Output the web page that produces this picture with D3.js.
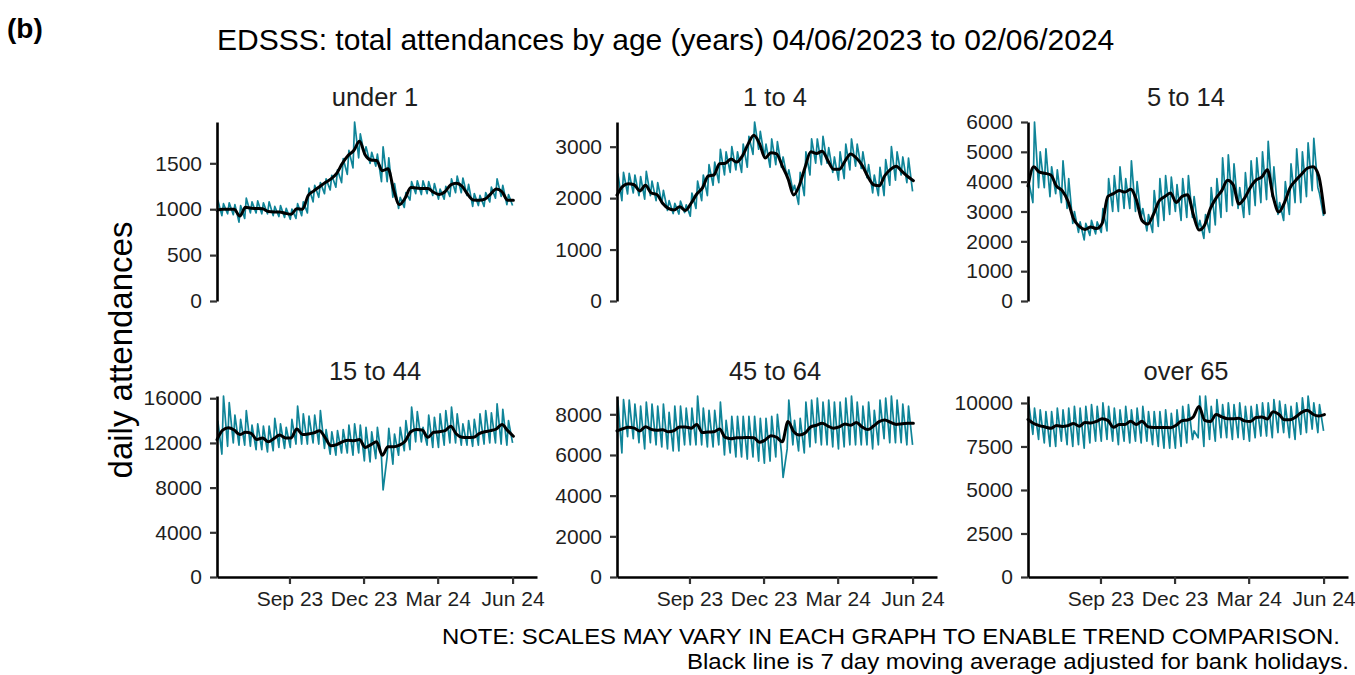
<!DOCTYPE html>
<html>
<head>
<meta charset="utf-8">
<script src="https://cdn.jsdelivr.net/npm/d3@7"></script>
<style>
  html, body { margin: 0; padding: 0; background: #fff; }
  svg { display: block; font-family: "Liberation Sans", Arial, sans-serif; }
</style>
</head>
<body>
<script>
// ---------------- DATA ----------------
const panelNames = ["under 1", "1 to 4", "5 to 14", "15 to 44", "45 to 64", "over 65"];
const startDate = "2023-06-04";
const endDate = "2024-06-02";

// 7-day moving average (black), one value per week from 04/06/2023 to 02/06/2024
const trendUnder1 = [990,1000,1000,1000,925,1020,1010,1008,1005,975,970,970,955,945,1005,1000,1150,1200,1245,1290,1330,1390,1500,1585,1640,1740,1590,1535,1530,1420,1440,1210,1050,1120,1236,1230,1225,1225,1185,1160,1190,1265,1282,1250,1160,1100,1098,1110,1165,1220,1190,1098,1098];
const trend1to4 = [2060,2230,2280,2260,2140,2250,2100,2070,1900,1800,1770,1830,1760,1900,2080,2200,2430,2450,2670,2680,2760,2700,2820,3050,3220,3060,2780,2880,2860,2620,2380,2060,2250,2600,2900,2870,2910,2730,2560,2560,2720,2860,2780,2640,2420,2260,2240,2440,2560,2620,2520,2420,2340];
const trend5to14 = [3850,4500,4320,4280,4220,3850,3700,3350,2750,2500,2400,2480,2430,2600,3500,3600,3700,3650,3750,3400,2700,2580,2900,3350,3500,3620,3300,3500,3560,2900,2380,2550,3100,3450,3700,4050,3900,3250,3450,3800,4050,4150,4400,3500,2980,3300,3800,4050,4250,4450,4500,4200,2950];
const trend15to44 = [12300,13150,13350,13150,12750,12950,12850,12300,12450,12100,12400,12700,12450,12450,13250,12750,12800,12900,13100,12450,11750,11850,12100,12250,12200,12300,11600,11850,12100,10900,11650,11650,11800,12150,13000,13200,13150,12500,12950,13000,13100,13500,12800,12500,12480,12500,12840,13000,13100,13250,13650,13100,12600];
const trend45to64 = [7180,7290,7360,7320,7180,7390,7260,7220,7240,7140,7200,7380,7380,7320,7500,7100,7130,7140,7280,6860,6800,6850,6850,6860,6850,6620,6740,6950,6870,6650,7650,7150,6980,7080,7380,7460,7560,7420,7320,7380,7520,7460,7600,7380,7250,7420,7640,7720,7600,7500,7540,7560,7560];
const trendOver65 = [9050,8820,8700,8620,8540,8700,8650,8700,8820,8660,8880,8850,8940,9100,9000,8600,8760,8760,8950,8760,8950,8640,8590,8590,8590,8580,8720,8980,9020,9200,9800,9000,8930,9330,9200,9100,9100,9120,8970,8930,9160,9200,9080,9500,9350,9030,9040,9200,9460,9580,9350,9250,9330];

// daily attendances (teal): weekly high (Mondays) and weekly low (Saturdays)
const highUnder1 = [1100,1060,1070,1050,1040,1120,1080,1090,1070,1080,1030,1040,1010,1000,1060,1080,1230,1260,1290,1330,1370,1430,1550,1640,1950,1820,1680,1620,1600,1680,1560,1280,1130,1180,1300,1310,1310,1300,1280,1220,1250,1330,1360,1340,1270,1170,1150,1180,1240,1330,1260,1160];
const lowUnder1 = [930,950,940,860,900,960,960,950,950,930,920,910,890,900,930,960,1080,1130,1170,1210,1240,1290,1380,1450,1560,1600,1500,1470,1300,1300,1130,1010,1020,1100,1170,1160,1170,1150,1110,1110,1140,1180,1180,1150,1030,1040,1030,1080,1120,1140,1050,1040];
const high1to4 = [2480,2500,2480,2450,2420,2520,2330,2300,2150,1950,1900,1940,1870,2100,2330,2450,2650,2700,2950,2900,3000,2900,3050,3200,3480,3300,3050,3150,3100,2800,2550,2250,2500,2900,3150,3150,3200,2980,2800,2900,3050,3150,3050,2900,2650,2450,2600,2750,3000,2900,2800,2780];
const low1to4 = [1950,2080,2100,2050,1980,2050,1950,1900,1760,1700,1690,1720,1650,1800,1950,2050,2250,2300,2450,2500,2550,2500,2600,2850,2950,2800,2600,2650,2600,2400,2150,1880,2050,2450,2680,2650,2680,2500,2350,2380,2550,2620,2580,2400,2100,2050,2050,2250,2350,2450,2300,2130];
const high5to14 = [4000,6000,5000,5100,4500,4400,4700,4100,3000,2650,2600,2700,2650,3100,4100,4200,4500,4100,4700,4000,3100,2900,3700,4100,4200,4150,3900,4100,4200,3500,2700,2900,3800,4100,4800,4900,4600,3800,4300,4700,4800,5000,5350,4500,3300,4000,4600,5100,5000,5300,5450,3600];
const low5to14 = [3300,3800,3800,3500,3600,3300,3100,2600,2300,2050,2200,2250,2300,2350,3000,3000,3100,3100,3000,2800,2350,2300,2500,2700,2900,3000,2700,2800,2800,2400,2100,2300,2550,2800,3000,3200,3100,2800,2900,3200,3300,3400,3500,2900,2700,2900,3300,3300,3500,3700,3800,2850];
const high15to44 = [14000,16200,15600,14500,14100,14900,13600,13700,13500,13500,14200,13700,13400,14100,15300,14600,14400,14500,14900,13200,13000,13100,13200,13600,13700,13600,13400,13000,13400,7800,13300,12800,13400,14000,15200,14800,13400,14500,14300,14600,14900,15200,14600,13700,14000,14100,14600,14900,14700,15500,15000,14000];
const low15to44 = [11000,11700,12000,11800,11800,11700,11400,11400,11200,11300,11600,11500,11600,11900,11900,11900,12000,11900,11500,11000,10900,11100,11100,10900,11100,10400,10300,10600,10700,10800,10100,10900,11300,11400,12100,12100,11800,11600,11600,11800,12000,12000,11800,11800,11700,11800,11900,12000,12000,11900,11800,12000];
const high45to64 = [8700,8720,8700,8500,8400,8600,8500,8400,8500,8100,8400,8400,8300,8300,8900,8300,8200,8200,8600,7700,7900,7900,7900,7900,7900,7800,7800,7900,8000,4900,8700,7700,7800,8600,8700,8800,8600,8700,8600,8600,8800,8900,8600,8400,8600,8200,8700,8800,8900,8700,8500,8400];
const low45to64 = [6100,6900,6800,6600,6300,6600,6500,6400,6300,6200,6200,6500,6500,6500,6500,6400,6400,6500,6000,6100,5900,5900,5800,5900,5700,5600,5700,5900,6100,6300,6500,6200,6100,6400,6600,6500,6500,6400,6300,6400,6500,6500,6500,6500,6300,6500,6800,6600,6600,6600,6500,6500];
const highOver65 = [9900,9700,9600,9500,9500,9700,9600,9700,9800,9700,9800,9900,9800,10000,9800,9700,9600,9800,9600,9700,9800,9500,9500,9500,9600,9400,9600,9800,9900,8400,10400,10400,9800,10200,9900,10000,9900,10000,9800,9800,9900,10000,10000,10200,10100,9900,9800,10000,10300,10400,10000,9900];
const lowOver65 = [8200,7900,7700,7500,7500,7800,7600,7500,7600,7400,7700,7800,7800,7900,7800,7600,7800,7700,7800,7700,7800,7600,7500,7400,7400,7400,7500,7700,7900,8000,7500,7900,7800,8000,8000,7900,8000,7900,7800,8000,8100,8100,8000,8300,8300,8000,7900,8200,8300,8500,8300,8400];

// y tick values per panel
const ticksUnder1 = [0, 500, 1000, 1500];
const ticks1to4 = [0, 1000, 2000, 3000];
const ticks5to14 = [0, 1000, 2000, 3000, 4000, 5000, 6000];
const ticks15to44 = [0, 4000, 8000, 12000, 16000];
const ticks45to64 = [0, 2000, 4000, 6000, 8000];
const ticksOver65 = [0, 2500, 5000, 7500, 10000];

// x ticks
const xTickDates = ["2023-09-01", "2023-12-01", "2024-03-01", "2024-06-01"];
const xTickLabels = ["Sep 23", "Dec 23", "Mar 24", "Jun 24"];

const titleText = "EDSSS: total attendances by age (years) 04/06/2023 to 02/06/2024";
const tagText = "(b)";
const yLabelText = "daily attendances";
const noteLines = ["NOTE: SCALES MAY VARY IN EACH GRAPH TO ENABLE TREND COMPARISON.",
                   "Black line is 7 day moving average adjusted for bank holidays."];

// ---------------- DRAW ----------------
const panelTrend = [trendUnder1, trend1to4, trend5to14, trend15to44, trend45to64, trendOver65];
const panelHigh = [highUnder1, high1to4, high5to14, high15to44, high45to64, highOver65];
const panelLow = [lowUnder1, low1to4, low5to14, low15to44, low45to64, lowOver65];
const panelTicks = [ticksUnder1, ticks1to4, ticks5to14, ticks15to44, ticks45to64, ticksOver65];

const W = 1355, H = 675;
const parse = d3.utcParse("%Y-%m-%d");
const t0 = parse(startDate);
const xEnd = d3.utcDay.offset(parse(endDate), 29);
const colLeft = [217, 617, 1028];
const panelW = 320;
const rowTop = [122, 396];
const rowBottom = [301, 577];
const teal = "#0f8498";
const tickFont = "21px";

const svg = d3.select("body").append("svg").attr("width", W).attr("height", H);
svg.append("rect").attr("width", W).attr("height", H).attr("fill", "#fff");

panelNames.forEach((name, i) => {
  const col = i % 3, row = Math.floor(i / 3);
  const g = svg.append("g").attr("transform", `translate(${colLeft[col]},0)`);
  const x = d3.scaleUtc().domain([t0, xEnd]).range([0, panelW]);
  const hi = panelHigh[i], lo = panelLow[i], tr = panelTrend[i];
  const y = d3.scaleLinear().domain([0, d3.max(hi)]).range([rowBottom[row], rowTop[row]]);

  // daily series: Monday highs and Saturday lows interleaved
  const daily = [];
  hi.forEach((v, k) => {
    daily.push({ d: d3.utcDay.offset(t0, 1 + 7 * k), v: v });
    daily.push({ d: d3.utcDay.offset(t0, 6 + 7 * k), v: lo[k] });
  });
  const trend = tr.map((v, k) => ({ d: d3.utcDay.offset(t0, 7 * k), v: v }));

  const line = d3.line().x(p => x(p.d)).y(p => y(p.v));
  g.append("path").datum(daily).attr("d", line)
    .attr("fill", "none").attr("stroke", teal).attr("stroke-width", 1.7)
    .attr("stroke-linejoin", "round");
  g.append("path").datum(trend).attr("d", line.curve(d3.curveMonotoneX))
    .attr("fill", "none").attr("stroke", "#000").attr("stroke-width", 3)
    .attr("stroke-linejoin", "round").attr("stroke-linecap", "round");

  // y axis
  const ya = g.append("g").call(d3.axisLeft(y).tickValues(panelTicks[i])
      .tickFormat(d3.format("d")).tickSize(7).tickSizeOuter(0).tickPadding(8));
  ya.select(".domain").attr("stroke", "#000").attr("stroke-width", 2.6);
  ya.selectAll(".tick line").attr("stroke", "#333").attr("stroke-width", 2.2);
  ya.selectAll(".tick text").attr("fill", "#1e1e1e").style("font-size", tickFont)
    .style("font-family", "'Liberation Sans', Arial, sans-serif");

  // x axis (bottom row only)
  if (row === 1) {
    const xa = g.append("g").attr("transform", `translate(0,${rowBottom[row]})`)
      .call(d3.axisBottom(x).tickValues(xTickDates.map(parse))
        .tickFormat((d, j) => xTickLabels[j]).tickSize(7).tickSizeOuter(0).tickPadding(7));
    xa.select(".domain").attr("stroke", "#000").attr("stroke-width", 2.6);
    xa.selectAll(".tick line").attr("stroke", "#333").attr("stroke-width", 2.2);
    xa.selectAll(".tick text").attr("fill", "#1e1e1e").style("font-size", tickFont)
      .style("font-family", "'Liberation Sans', Arial, sans-serif");
  }

  // strip label
  g.append("text").attr("x", panelW / 2 - 2).attr("y", row === 0 ? 106 : 380)
    .attr("text-anchor", "middle").attr("fill", "#1e1e1e")
    .style("font-size", "25.5px").text(name);
});

// title, tag, y label, notes
svg.append("text").attr("x", 217).attr("y", 50).attr("fill", "#000")
  .style("font-size", "30px").text(titleText);
svg.append("text").attr("x", 7).attr("y", 38).attr("fill", "#000")
  .style("font-size", "28px").style("font-weight", "bold").text(tagText);
svg.append("text").attr("transform", "translate(132,350) rotate(-90)")
  .attr("text-anchor", "middle").attr("fill", "#000")
  .style("font-size", "33px").text(yLabelText);
svg.append("text").attr("x", 1340).attr("y", 644).attr("text-anchor", "end")
  .attr("fill", "#000").style("font-size", "22px")
  .attr("textLength", 898).attr("lengthAdjust", "spacingAndGlyphs").text(noteLines[0]);
svg.append("text").attr("x", 1349).attr("y", 669).attr("text-anchor", "end")
  .attr("fill", "#000").style("font-size", "22px")
  .attr("textLength", 662).attr("lengthAdjust", "spacingAndGlyphs").text(noteLines[1]);
</script>
</body>
</html>
